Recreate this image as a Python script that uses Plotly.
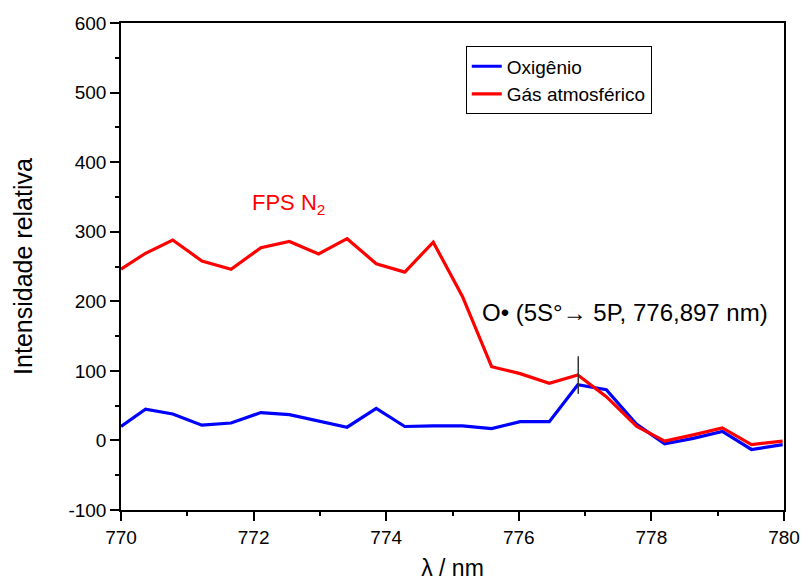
import plotly.graph_objects as go

# wavelengths (nm)
wavelength = [770.00, 770.37, 770.78, 771.22, 771.66, 772.11, 772.54, 772.98,
              773.41, 773.85, 774.28, 774.71, 775.15, 775.59, 776.02, 776.46,
              776.89, 777.32, 777.78, 778.20, 778.63, 779.07, 779.51, 779.98]

oxigenio = [20, 45, 38, 22, 25, 40, 37, 28, 19, 46, 20, 21, 21, 17,
            27, 27, 80, 73, 23, -5, 3, 13, -13, -6]

gas_atmosferico = [246, 269, 288, 258, 246, 277, 286, 268, 290, 254, 242, 285,
                   207, 106, 96, 82, 94, 63, 20, -1, 8, 18, -6, -1]

series_names = ["Oxigênio", "Gás atmosférico"]
y_tick_values = [-100, 0, 100, 200, 300, 400, 500, 600]
y_tick_labels = ["-100", "0", "100", "200", "300", "400", "500", "600"]
peak_nm = 776.897
peak_mark_range = [67, 121]

FONT = "Arial, Liberation Sans, sans-serif"

fig = go.Figure()
fig.add_trace(go.Scatter(x=wavelength, y=oxigenio, mode="lines", name=series_names[0],
                         line=dict(color="#0000ff", width=3.2)))
fig.add_trace(go.Scatter(x=wavelength, y=gas_atmosferico, mode="lines", name=series_names[1],
                         line=dict(color="#ff0000", width=3.2)))

fig.add_shape(type="line", x0=peak_nm, x1=peak_nm, y0=peak_mark_range[0], y1=peak_mark_range[1],
              xref="x", yref="y", line=dict(color="#333333", width=1.5))

fig.add_annotation(x=771.95, y=340, xref="x", yref="y", text="FPS N<sub>2</sub>",
                   showarrow=False, xanchor="left", yanchor="middle",
                   font=dict(family=FONT, size=22, color="#ff0000"))
fig.add_annotation(x=775.42, y=184, xref="x", yref="y",
                   text="O• (5S°→ 5P, 776,897 nm)",
                   showarrow=False, xanchor="left", yanchor="middle",
                   font=dict(family=FONT, size=24, color="#000000"))

fig.update_layout(
    width=802, height=581,
    paper_bgcolor="white", plot_bgcolor="white",
    margin=dict(l=121, r=18, t=23, b=71),
    font=dict(family=FONT, size=18, color="black"),
    showlegend=True,
    legend=dict(x=0.52, y=0.952, xanchor="left", yanchor="top",
                bordercolor="black", borderwidth=1, bgcolor="white",
                font=dict(family=FONT, size=19), tracegroupgap=0),
)

fig.update_xaxes(
    range=[770, 780], dtick=2, tick0=770, automargin=False,
    ticks="outside", ticklen=9, tickwidth=1.5, tickcolor="black",
    minor=dict(dtick=1, ticks="outside", ticklen=4, tickwidth=1.5, tickcolor="black"),
    showline=True, linecolor="black", linewidth=1.5, mirror=True,
    showgrid=False, zeroline=False,
    tickfont=dict(family=FONT, size=19),
    title=dict(text="λ / nm", font=dict(family=FONT, size=23), standoff=23),
)
fig.update_yaxes(
    range=[-100, 600], tickmode="array", tickvals=y_tick_values, ticktext=y_tick_labels,
    automargin=False,
    ticks="outside", ticklen=9, tickwidth=1.5, tickcolor="black",
    minor=dict(dtick=50, tick0=0, ticks="outside", ticklen=4, tickwidth=1.5, tickcolor="black"),
    showline=True, linecolor="black", linewidth=1.5, mirror=True,
    showgrid=False, zeroline=False,
    tickfont=dict(family=FONT, size=19),
    title=dict(text="Intensidade relativa", font=dict(family=FONT, size=25), standoff=29),
)

fig.write_html(
    "out.html",
    config={"displayModeBar": False},
    post_script="document.body.style.margin='0px';document.body.style.overflow='hidden';",
)
